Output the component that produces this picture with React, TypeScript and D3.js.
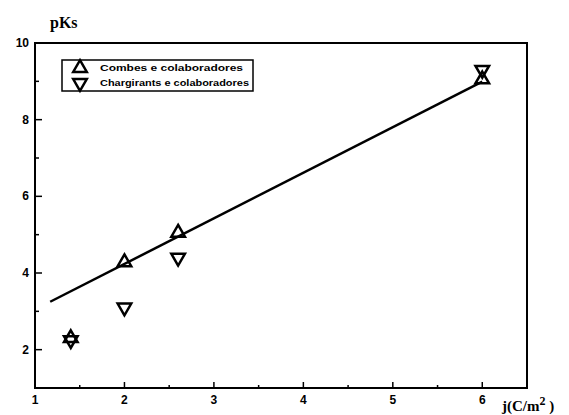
import React from "react";
import * as d3 from "d3";

const xTicks = [1, 2, 3, 4, 5, 6];
const xMinor = [1.5, 2.5, 3.5, 4.5, 5.5];
const yTicks = [2, 4, 6, 8, 10];
const yMinor = [3, 5, 7, 9];

const combesX = [1.4, 2.0, 2.6, 6.0];
const combesY = [2.3, 4.28, 5.05, 9.05];
const chargX = [1.4, 2.0, 2.6, 6.0];
const chargY = [2.25, 3.1, 4.4, 9.3];

const fitX = [1.17, 6.0];
const fitY = [3.25, 8.99];

const legendLabels = ["Combes e colaboradores", "Chargirants e colaboradores"];

const W = 569;
const H = 415;
const left = 35, right = 527, top = 43, bottom = 388;

export default function App() {
  const x = d3.scaleLinear().domain([1, 6.5]).range([left, right]);
  const y = d3.scaleLinear().domain([1, 10]).range([bottom, top]);
  const line = d3.line<number>().x((_, i) => x(fitX[i])).y((d) => y(d));
  const up = d3.symbol().type(d3.symbolTriangle).size(80);
  const upPath = up() as string;
  const sans = "'Liberation Sans', Arial, sans-serif";
  const serif = "'Liberation Serif', 'Times New Roman', serif";

  return (
    <svg width={W} height={H} style={{ position: "absolute", left: 0, top: 0, background: "#fff" }}>
      <rect x={left} y={top} width={right - left} height={bottom - top} fill="none" stroke="#000" strokeWidth={2} />
      {yTicks.map((t) => (
        <g key={"y" + t}>
          <line x1={left} x2={left + 7} y1={y(t)} y2={y(t)} stroke="#000" strokeWidth={1.5} />
          <text x={left - 6} y={y(t)} textAnchor="end" dominantBaseline="central" fontFamily={sans} fontWeight="bold" fontSize={12}>{t}</text>
        </g>
      ))}
      {yMinor.map((t) => (
        <line key={"ym" + t} x1={left} x2={left + 4} y1={y(t)} y2={y(t)} stroke="#000" strokeWidth={1.5} />
      ))}
      {xTicks.map((t) => (
        <g key={"x" + t}>
          <line x1={x(t)} x2={x(t)} y1={bottom} y2={bottom - 6} stroke="#000" strokeWidth={1.5} />
          <text x={x(t)} y={bottom + 12} textAnchor="middle" dominantBaseline="central" fontFamily={sans} fontWeight="bold" fontSize={12}>{t}</text>
        </g>
      ))}
      {xMinor.map((t) => (
        <line key={"xm" + t} x1={x(t)} x2={x(t)} y1={bottom} y2={bottom - 3} stroke="#000" strokeWidth={1.5} />
      ))}
      <text x={50} y={28} fontFamily={serif} fontWeight="bold" fontSize={16}>pKs</text>
      <text x={502} y={411} fontFamily={serif} fontWeight="bold" fontSize={15}>
        j(C/m<tspan dy={-6} fontSize={12}>2</tspan><tspan dy={6}> )</tspan>
      </text>
      <path d={line(fitY) as string} fill="none" stroke="#000" strokeWidth={2.5} />
      {combesX.map((v, i) => (
        <path key={"c" + i} d={upPath} transform={`translate(${x(v)},${y(combesY[i])})`} fill="none" stroke="#000" strokeWidth={2.5} />
      ))}
      {chargX.map((v, i) => (
        <path key={"g" + i} d={upPath} transform={`translate(${x(v)},${y(chargY[i])}) rotate(180)`} fill="none" stroke="#000" strokeWidth={2.5} />
      ))}
      <rect x={62} y={60} width={191} height={31} fill="#fff" stroke="#000" strokeWidth={1.5} />
      {legendLabels.map((lab, i) => (
        <g key={"l" + i}>
          <path d={upPath} transform={`translate(80,${68 + i * 15}) ${i === 1 ? "rotate(180)" : ""}`} fill="none" stroke="#000" strokeWidth={2.5} />
          <text x={100} y={68 + i * 15} dominantBaseline="central" fontFamily={sans} fontWeight="bold" fontSize={9} textLength={143 + i * 6} lengthAdjust="spacingAndGlyphs">{lab}</text>
        </g>
      ))}
    </svg>
  );
}
